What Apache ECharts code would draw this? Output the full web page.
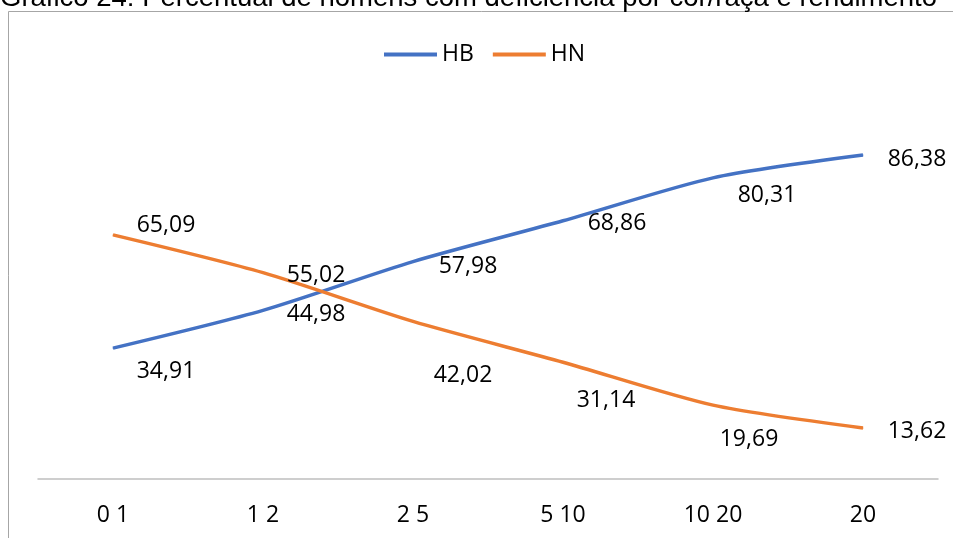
<!DOCTYPE html>
<html>
<head>
<meta charset="utf-8">
<script src="https://cdn.jsdelivr.net/npm/echarts@6/dist/echarts.min.js"></script>
<style>html,body{margin:0;padding:0;background:#fff}#c{width:953px;height:538px}</style>
</head>
<body>
<div id="c"></div>
<script>
const categories = ['0 1', '1 2', '2 5', '5 10', '10 20', '20'];
const hbValues = [34.91, 44.98, 57.98, 68.86, 80.31, 86.38];
const hnValues = [65.09, 55.02, 42.02, 31.14, 19.69, 13.62];
const titleText = 'Gráfico 24: Percentual de homens com deficiência por cor/raça e rendimento';

// label placement (pixel offsets from each point)
const hbLabelOffsets = [[53, 23], [53, 4], [55, 5], [54, 3], [54, 18], [54, 4]];
const hnLabelOffsets = [[53, -9], [53, 3], [50, 54], [43, 38], [36, 34], [54, 4]];

const FONT = '"Open Sans", sans-serif';
const fmt = v => v.toFixed(2).replace('.', ',');

function buildData(values, offsets) {
  return values.map((v, i) => ({
    value: v,
    label: { offset: offsets[i] }
  }));
}

const chart = echarts.init(document.getElementById('c'), null, { renderer: 'canvas' });
chart.setOption({
  animation: false,
  backgroundColor: '#ffffff',
  graphic: [
    { type: 'rect', z: -10, shape: { x: 8.5, y: 11.5, width: 1200, height: 800 },
      style: { fill: '#ffffff', stroke: '#a6a6a6', lineWidth: 1 } },
    { type: 'text', x: 0, y: -16, z: 10,
      style: { text: titleText, font: '27.5px "Liberation Sans", Arial, sans-serif', fill: '#000', textVerticalAlign: 'top' } }
  ],
  legend: {
    top: 38,
    left: 379,
    itemWidth: 53,
    itemHeight: 4,
    itemGap: 19,
    icon: 'rect',
    textStyle: { fontFamily: FONT, fontSize: 23, color: '#000' },
    data: ['HB', 'HN']
  },
  grid: { left: 38, right: 15, top: 104, bottom: 59, containLabel: false },
  xAxis: {
    type: 'category',
    data: categories,
    boundaryGap: true,
    axisLine: { show: true, lineStyle: { color: '#bfbfbf', width: 1.5 } },
    axisTick: { show: false },
    axisLabel: { fontFamily: FONT, fontSize: 23, color: '#000', margin: 25 },
    splitLine: { show: false }
  },
  yAxis: {
    type: 'value', min: 0, max: 100, show: false,
    splitLine: { show: false }
  },
  series: [
    {
      name: 'HB', type: 'line', smooth: 0.25,
      data: buildData(hbValues, hbLabelOffsets),
      symbol: 'circle', symbolSize: 1, showSymbol: true,
      itemStyle: { color: '#4472C4' },
      lineStyle: { color: '#4472C4', width: 3.5 },
      label: { show: true, position: 'inside', fontFamily: FONT, fontSize: 23, color: '#000',
               formatter: p => fmt(p.value) }
    },
    {
      name: 'HN', type: 'line', smooth: 0.25,
      data: buildData(hnValues, hnLabelOffsets),
      symbol: 'circle', symbolSize: 1, showSymbol: true,
      itemStyle: { color: '#ED7D31' },
      lineStyle: { color: '#ED7D31', width: 3.5 },
      label: { show: true, position: 'inside', fontFamily: FONT, fontSize: 23, color: '#000',
               formatter: p => fmt(p.value) }
    }
  ]
});
</script>
</body>
</html>
